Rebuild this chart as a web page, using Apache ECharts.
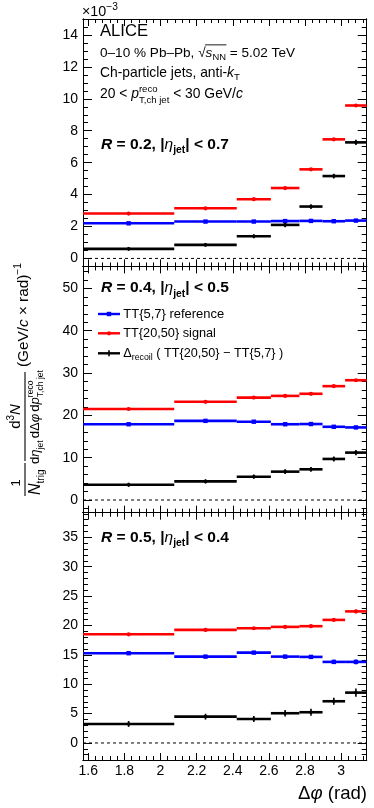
<!DOCTYPE html>
<html><head><meta charset="utf-8">
<script src="https://cdn.jsdelivr.net/npm/echarts@6/dist/echarts.min.js"></script>
<style>html,body{margin:0;padding:0;background:#fff}#c{width:374px;height:808px}</style>
</head><body><div id="c"></div>
<script>
const FONT = '"Liberation Sans", Arial, Helvetica, sans-serif';

// ---- data ----
const binEdges = [1.5708, 2.076, 2.422, 2.611, 2.769, 2.897, 3.022, 3.1416]; // Δφ (rad)
const xTicks = [1.6, 1.8, 2, 2.2, 2.4, 2.6, 2.8, 3];

// R = 0.2 (values in units of 1e-3)
const r02Ref = [2.20, 2.31, 2.31, 2.34, 2.35, 2.33, 2.37];
const r02RefErr = [0.04, 0.04, 0.04, 0.05, 0.05, 0.05, 0.05];
const r02Sig = [2.81, 3.14, 3.71, 4.41, 5.58, 7.46, 9.58];
const r02SigErr = [0.04, 0.05, 0.05, 0.06, 0.07, 0.08, 0.09];
const r02Del = [0.60, 0.85, 1.39, 2.10, 3.25, 5.16, 7.27];
const r02DelErr = [0.12, 0.12, 0.13, 0.14, 0.15, 0.15, 0.16];
const yTicksR02 = [0, 2, 4, 6, 8, 10, 12, 14];

// R = 0.4
const r04Ref = [17.9, 18.7, 18.5, 17.9, 17.95, 17.3, 17.15];
const r04RefErr = [0.15, 0.15, 0.2, 0.2, 0.2, 0.25, 0.25];
const r04Sig = [21.5, 23.2, 24.2, 24.6, 25.1, 26.9, 28.3];
const r04SigErr = [0.15, 0.2, 0.2, 0.25, 0.25, 0.3, 0.3];
const r04Del = [3.6, 4.4, 5.5, 6.7, 7.25, 9.7, 11.2];
const r04DelErr = [0.5, 0.5, 0.5, 0.55, 0.55, 0.6, 0.6];
const yTicksR04 = [0, 10, 20, 30, 40, 50];

// R = 0.5
const r05Ref = [15.28, 14.7, 15.38, 14.7, 14.65, 13.8, 13.8];
const r05RefErr = [0.15, 0.15, 0.2, 0.25, 0.3, 0.35, 0.4];
const r05Sig = [18.5, 19.25, 19.53, 19.76, 19.88, 20.95, 22.4];
const r05SigErr = [0.15, 0.15, 0.2, 0.2, 0.25, 0.25, 0.3];
const r05Del = [3.24, 4.48, 4.09, 5.06, 5.23, 7.1, 8.57];
const r05DelErr = [0.5, 0.5, 0.5, 0.55, 0.6, 0.6, 0.7];
const yTicksR05 = [0, 5, 10, 15, 20, 25, 30, 35];

const XMIN = 1.5708, XMAX = 3.1416;
const BLUE = '#0000ff', RED = '#ff0000', BLACK = '#000000';

function steps(a, b, st) {
  const r = [];
  const n0 = Math.ceil(a / st - 1e-9), n1 = Math.floor(b / st + 1e-9);
  for (let n = n0; n <= n1; n++) r.push(+(n * st).toFixed(6));
  return r;
}

const panels = [
  {top: 19, h: 247.4, ymin: -0.5, ymax: 15, major: yTicksR02, minorStep: 0.5,
   ref: r02Ref, refE: r02RefErr, sig: r02Sig, sigE: r02SigErr, del: r02Del, delE: r02DelErr},
  {top: 266.4, h: 246.3, ymin: -3, ymax: 55.2, major: yTicksR04, minorStep: 2,
   ref: r04Ref, refE: r04RefErr, sig: r04Sig, sigE: r04SigErr, del: r04Del, delE: r04DelErr},
  {top: 512.7, h: 247.3, ymin: -2.9, ymax: 39.2, major: yTicksR05, minorStep: 1,
   ref: r05Ref, refE: r05RefErr, sig: r05Sig, sigE: r05SigErr, del: r05Del, delE: r05DelErr}
];

const xMinor = steps(XMIN, XMAX, 0.04);
const grids = [], xAxes = [], yAxes = [], series = [];
const lbl = {color: '#000', fontSize: 14, fontFamily: FONT};

function xAx(g, pos, vals, len, showLabel) {
  return {type: 'value', gridIndex: g, position: pos, min: XMIN, max: XMAX,
    axisLine: {show: true, onZero: false, lineStyle: {color: '#000', width: 1}},
    axisTick: {show: true, inside: true, length: len, customValues: vals, lineStyle: {color: '#000', width: 1}},
    axisLabel: showLabel ? Object.assign({show: true, margin: 4, customValues: vals,
      formatter: v => String(+v.toFixed(2))}, lbl) : {show: false},
    splitLine: {show: false}, minorTick: {show: false}};
}
function yAx(g, pos, p, vals, len, showLabel) {
  return {type: 'value', gridIndex: g, position: pos, min: p.ymin, max: p.ymax,
    axisLine: {show: true, onZero: false, lineStyle: {color: '#000', width: 1}},
    axisTick: {show: true, inside: true, length: len, customValues: vals, lineStyle: {color: '#000', width: 1}},
    axisLabel: showLabel ? Object.assign({show: true, margin: 5, customValues: vals}, lbl) : {show: false},
    splitLine: {show: false}, minorTick: {show: false}};
}

function binSeries(name, g, vals, errs, color, marker) {
  return {type: 'custom', name, xAxisIndex: 4 * g, yAxisIndex: 4 * g, silent: true, z: 5,
    encode: {x: [0, 1], y: 3},
    data: vals.map((v, i) => [binEdges[i], binEdges[i + 1], (binEdges[i] + binEdges[i + 1]) / 2, v, errs[i]]),
    renderItem(params, api) {
      const a = api.coord([api.value(0), api.value(3)]);
      const b = api.coord([api.value(1), api.value(3)]);
      const c = api.coord([api.value(2), api.value(3)]);
      const t = api.coord([api.value(2), api.value(3) + api.value(4)]);
      const d = api.coord([api.value(2), api.value(3) - api.value(4)]);
      const ch = [
        {type: 'line', shape: {x1: a[0], y1: a[1], x2: b[0], y2: b[1]}, style: {stroke: color, lineWidth: 2.6}},
        {type: 'line', shape: {x1: c[0], y1: t[1], x2: c[0], y2: d[1]}, style: {stroke: color, lineWidth: 1.6}}
      ];
      if (marker === 'square') ch.push({type: 'rect', shape: {x: c[0] - 2.2, y: c[1] - 2.2, width: 4.4, height: 4.4}, style: {fill: color}});
      else ch.push({type: 'circle', shape: {cx: c[0], cy: c[1], r: marker === 'small' ? 1.8 : 2.1}, style: {fill: color}});
      return {type: 'group', children: ch};
    }};
}

panels.forEach((p, g) => {
  grids.push({left: 83, width: 283.7, top: p.top, height: p.h, containLabel: false});
  const yMinor = steps(p.ymin, p.ymax, p.minorStep);
  xAxes.push(xAx(g, 'bottom', xTicks, 7, g === 2));
  xAxes.push(xAx(g, 'bottom', xMinor, 4, false));
  xAxes.push(xAx(g, 'top', xTicks, 7, false));
  xAxes.push(xAx(g, 'top', xMinor, 4, false));
  yAxes.push(yAx(g, 'left', p, p.major, 9, true));
  yAxes.push(yAx(g, 'left', p, yMinor, 5, false));
  yAxes.push(yAx(g, 'right', p, p.major, 9, false));
  yAxes.push(yAx(g, 'right', p, yMinor, 5, false));
  series.push({type: 'line', xAxisIndex: 4 * g, yAxisIndex: 4 * g, silent: true, symbol: 'none', z: 2,
    data: [[XMIN, 0], [XMAX, 0]], lineStyle: {color: '#000', width: 1, type: [3, 3]}});
  series.push(binSeries('TT{5,7} reference', g, p.ref, p.refE, BLUE, 'square'));
  series.push(binSeries('TT{20,50} signal', g, p.sig, p.sigE, RED, 'circle'));
  series.push(binSeries('Δrecoil', g, p.del, p.delE, BLACK, 'small'));
});

// ---- text helper ----
const mctx = document.createElement('canvas').getContext('2d');
function fnt(p, s) { return (p.it ? 'italic ' : '') + (p.b ? 'bold ' : '') + s.toFixed(2) + 'px ' + FONT; }
function layout(pieces, f) {
  let x = 0, stackW = null; const pos = [];
  pieces.forEach(p => {
    const s = p.s * f; mctx.font = fnt(p, s);
    const w = mctx.measureText(p.t).width + (p.gap || 0);
    pos.push({x, w, s});
    if (p.stack) { stackW = w; return; }
    x += stackW != null ? Math.max(w, stackW) : w; stackW = null;
  });
  return {pos, W: x};
}
function row(pieces, o) {
  const nat = layout(pieces, 1);
  const f = o.fit ? o.fit / nat.W : 1;
  const L = layout(pieces, f);
  let x0 = o.x;
  if (o.right != null) x0 = o.right - L.W;
  if (o.cx != null) x0 = o.cx - L.W / 2;
  const els = []; let ovA = null, ovB = null, ovS = 0;
  pieces.forEach((p, i) => {
    const q = L.pos[i];
    const y = o.B + (p.dy || 0) * f - 0.347 * q.s;
    els.push({type: 'text', x: x0 + q.x, y, silent: true,
      style: {text: p.t, font: fnt(p, q.s), fill: o.color || '#000', align: 'left', verticalAlign: 'middle'}});
    if (p.ov) { if (ovA == null) { ovA = x0 + q.x; ovS = q.s; } ovB = x0 + q.x + q.w; }
  });
  if (ovA != null) els.push({type: 'line', silent: true, shape: {x1: ovA - 0.5, y1: o.B - 0.93 * ovS, x2: ovB + 0.5, y2: o.B - 0.93 * ovS},
    style: {stroke: '#000', lineWidth: 0.9}});
  return els;
}
function hline(x1, x2, y, color, w) {
  return {type: 'line', silent: true, shape: {x1, y1: y, x2, y2: y}, style: {stroke: color || '#000', lineWidth: w || 1}};
}

const G = [];
// multiplier
G.push(...row([{t: '×10', s: 14}, {t: '−3', s: 10, dy: -6}], {x: 82, B: 17, fit: 36}));
// panel 1 header
G.push(...row([{t: 'ALICE', s: 13}], {x: 100, B: 37.3, fit: 48}));
G.push(...row([{t: '0–10 % Pb–Pb, ', s: 13}, {t: '√', s: 13}, {t: 's', s: 13, it: 1, ov: 1}, {t: 'NN', s: 9, dy: 3, ov: 1}, {t: ' = 5.02 TeV', s: 13}], {x: 100, B: 57.5, fit: 195}));
G.push(...row([{t: 'Ch-particle jets, anti-', s: 13}, {t: 'k', s: 13, it: 1}, {t: 'T', s: 9, dy: 3}], {x: 100, B: 77.5, fit: 140}));
G.push(...row([{t: '20 < ', s: 13}, {t: 'p', s: 13, it: 1}, {t: 'reco', s: 9, dy: -6, stack: 1}, {t: 'T,ch jet', s: 9, dy: 4}, {t: ' < 30 GeV/', s: 13}, {t: 'c', s: 13, it: 1}], {x: 100, B: 99.3, fit: 143}));
// panel labels
function rlab(r, eta, B) {
  return row([{t: 'R', s: 15, b: 1, it: 1}, {t: ' = ' + r + ', |', s: 15, b: 1}, {t: 'η', s: 15, it: 1}, {t: 'jet', s: 10, b: 1, dy: 4}, {t: '| < ' + eta, s: 15, b: 1}], {x: 101, B, fit: 128});
}
G.push(...rlab('0.2', '0.7', 150));
G.push(...rlab('0.4', '0.5', 293.5));
G.push(...rlab('0.5', '0.4', 542.7));
// legend
G.push(hline(98, 120, 314, BLUE, 2.4), {type: 'rect', silent: true, shape: {x: 106.8, y: 311.8, width: 4.4, height: 4.4}, style: {fill: BLUE}});
G.push(hline(98, 120, 333.3, RED, 2.4), {type: 'circle', silent: true, shape: {cx: 109, cy: 333.3, r: 2.1}, style: {fill: RED}});
G.push(hline(98, 120, 353.3, BLACK, 2.4), {type: 'line', silent: true, shape: {x1: 109, y1: 350.3, x2: 109, y2: 356.3}, style: {stroke: BLACK, lineWidth: 1.6}});
G.push(...row([{t: 'TT{5,7} reference', s: 13}], {x: 123.3, B: 319, fit: 101}));
G.push(...row([{t: 'TT{20,50} signal', s: 13}], {x: 123.3, B: 338.3, fit: 92.7}));
G.push(...row([{t: 'Δ', s: 13}, {t: 'recoil', s: 9, dy: 3}, {t: ' ( TT{20,50} − TT{5,7} )', s: 13}], {x: 123.3, B: 358, fit: 160}));
// x title
G.push(...row([{t: 'Δ', s: 16}, {t: 'φ', s: 16, it: 1}, {t: ' (rad)', s: 16}], {right: 367, B: 800, fit: 69}));
// y title (rotated)
const yt = [];
yt.push(...row([{t: '1', s: 13}], {cx: 17, B: -3.5}));
yt.push(hline(4, 37, 1, '#000', 1.1));
yt.push(...row([{t: 'N', s: 16, it: 1}, {t: 'trig', s: 10, dy: 4}], {x: 5, B: 17}));
yt.push(...row([{t: 'd', s: 15}, {t: '3', s: 10, dy: -7}, {t: 'N', s: 15, it: 1}], {cx: 83.5, B: -2.5}));
yt.push(hline(39, 128, 1, '#000', 1.1));
yt.push(...row([{t: 'd', s: 13}, {t: 'η', s: 13, it: 1}, {t: 'jet', s: 8.5, dy: 4, gap: 2}, {t: 'dΔ', s: 13}, {t: 'φ', s: 13, it: 1, gap: 2}, {t: 'd', s: 13}, {t: 'p', s: 13, it: 1}, {t: 'reco', s: 8.5, dy: -6, stack: 1}, {t: 'T,ch jet', s: 8.5, dy: 4}], {cx: 83, B: 16, fit: 94}));
yt.push(...row([{t: '(GeV/', s: 15}, {t: 'c', s: 15, it: 1}, {t: ' × rad)', s: 15}, {t: '−1', s: 10, dy: -7}], {x: 133, B: 5, fit: 104}));
G.push({type: 'group', x: 24, y: 500, rotation: Math.PI / 2, children: yt});

const chart = echarts.init(document.getElementById('c'), null, {renderer: 'canvas'});
chart.setOption({
  animation: false,
  backgroundColor: '#fff',
  grid: grids, xAxis: xAxes, yAxis: yAxes, series,
  graphic: {elements: G}
});
</script></body></html>
